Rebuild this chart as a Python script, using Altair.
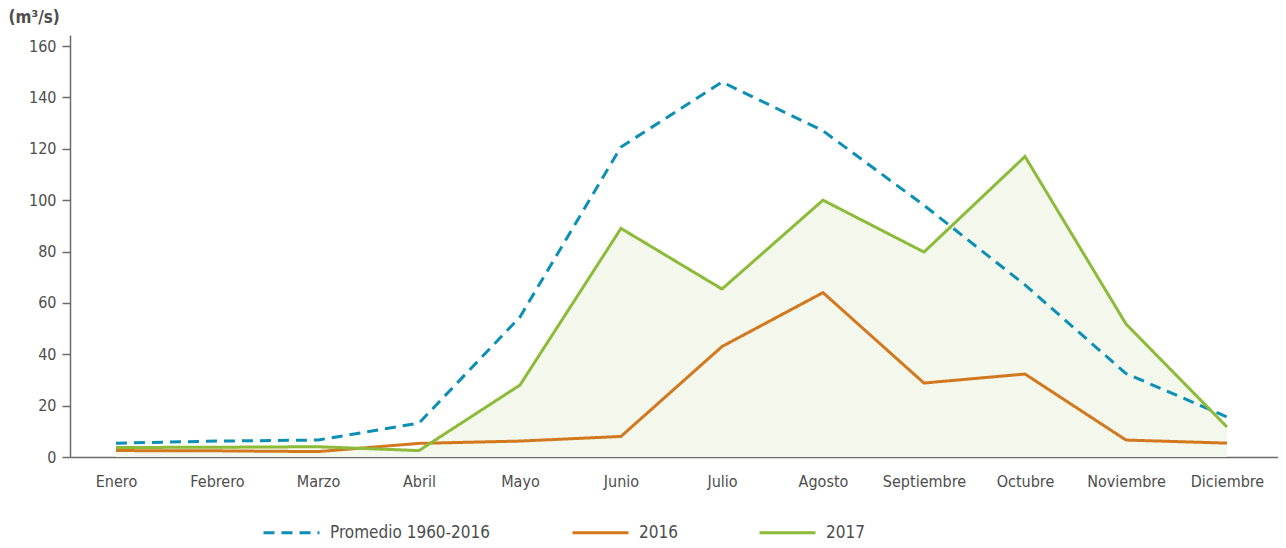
import altair as alt
import pandas as pd

months = ["Enero", "Febrero", "Marzo", "Abril", "Mayo", "Junio", "Julio",
          "Agosto", "Septiembre", "Octubre", "Noviembre", "Diciembre"]
promedio = [5.4, 6.2, 6.6, 13.2, 54.5, 120.7, 146.0, 127.0, 98.0, 67.0, 32.5, 15.6]
y2016 = [2.5, 2.4, 2.1, 5.3, 6.2, 8.0, 43.0, 64.0, 28.8, 32.3, 6.6, 5.4]
y2017 = [3.7, 3.8, 4.0, 2.5, 28.0, 89.0, 65.4, 100.0, 79.8, 117.0, 51.8, 11.7]
series_names = ["Promedio 1960-2016", "2016", "2017"]
colors = ["#0B8FB5", "#D2781E", "#8CBB3A"]
dashes = [[11, 7], [1, 0], [1, 0]]

rows = []
for name, vals in zip(series_names, [promedio, y2016, y2017]):
    for i, v in enumerate(vals):
        rows.append({"serie": name, "mes": i, "valor": v})
df = pd.DataFrame(rows)

FONT = "Liberation Sans Narrow, DejaVu Sans Condensed, sans-serif"
label_expr = "[" + ",".join("'%s'" % m for m in months) + "][datum.value]"

x = alt.X("mes:Q",
          scale=alt.Scale(domain=[-0.455, 11.505], nice=False, zero=False),
          axis=alt.Axis(values=list(range(12)), labelExpr=label_expr, title=None,
                        ticks=False, grid=False, labelPadding=16, labelFontSize=16,
                        labelFont=FONT, labelColor="#4d4d4d", domainColor="#6b6b6b",
                        domainWidth=1.5, labelFlush=False))
y = alt.Y("valor:Q",
          scale=alt.Scale(domain=[0, 164.3], nice=False),
          axis=alt.Axis(values=list(range(0, 161, 20)), title="(m³/s)", titleAngle=0,
                        titleAlign="left", titleBaseline="alphabetic", titleX=-62, titleY=-13,
                        titleFont=FONT, titleFontSize=17, titleFontWeight="bold",
                        titleColor="#4d4d4d", grid=False, tickSize=8, tickColor="#6b6b6b",
                        tickWidth=1.5, domainColor="#6b6b6b", domainWidth=1.5,
                        labelFont=FONT, labelFontSize=16, labelColor="#4d4d4d",
                        labelPadding=6))

area = alt.Chart(df).transform_filter(alt.datum.serie == "2017").mark_area(
    color="#F3F7EC", opacity=1).encode(x=x, y=y)

legend = alt.Legend(title=None, orient="none", legendX=192, legendY=468,
                    direction="horizontal", columns=3, symbolType="stroke",
                    symbolSize=3136, symbolStrokeWidth=3, labelFont=FONT,
                    labelFontSize=17, labelColor="#4d4d4d", columnPadding=75,
                    labelOffset=9, labelLimit=0)

lines = alt.Chart(df).mark_line(strokeWidth=3).encode(
    x=x, y=y,
    color=alt.Color("serie:N", scale=alt.Scale(domain=series_names, range=colors),
                    legend=legend, sort=series_names),
    strokeDash=alt.StrokeDash("serie:N", scale=alt.Scale(domain=series_names, range=dashes),
                              legend=legend, sort=series_names),
    order=alt.Order("mes:Q"),
)

chart = alt.layer(area, lines).properties(
    width=1208, height=422, background="white",
    padding={"left": 0, "top": 0, "right": 0, "bottom": 0},
).configure_view(stroke=None)

chart.save("out.html", embed_options={"renderer": "svg", "actions": False})
